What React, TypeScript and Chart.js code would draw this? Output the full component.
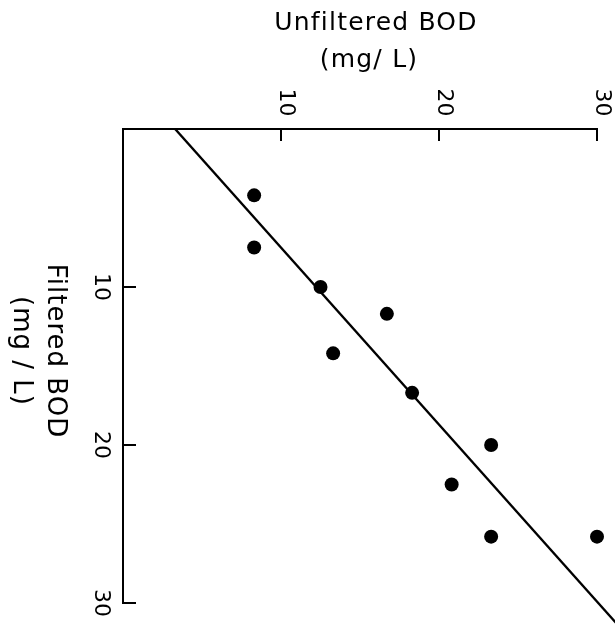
import { useEffect, useRef } from "react";
import { Chart, registerables } from "chart.js";

Chart.register(...registerables);

const unfilteredBOD = [8.3, 8.3, 12.5, 16.7, 13.3, 18.3, 23.3, 20.8, 23.3, 30.0];
const filteredBOD = [4.2, 7.5, 10.0, 11.7, 14.2, 16.7, 20.0, 22.5, 25.8, 25.8];
const fitLineX = [3.3, 31.6];
const fitLineY = [0, 31.7];
const xTickValues = [10, 20, 30];
const yTickValues = [10, 20, 30];
const xTitleLines = ["Unfiltered BOD", "(mg/ L)"];
const yTitleLines = ["Filtered BOD", "(mg / L)"];

const FONT = '"DejaVu Sans", sans-serif';

const overlayPlugin = {
  id: "overlay",
  afterDraw(chart: any) {
    const { ctx, chartArea, scales } = chart;
    const xs = scales.x;
    const ys = scales.y;
    ctx.save();
    ctx.strokeStyle = "#000";
    ctx.lineWidth = 2;
    xTickValues.forEach((v) => {
      const px = xs.getPixelForValue(v);
      ctx.beginPath();
      ctx.moveTo(px, chartArea.top);
      ctx.lineTo(px, chartArea.top + 12);
      ctx.stroke();
    });
    yTickValues.forEach((v) => {
      const py = ys.getPixelForValue(v);
      ctx.beginPath();
      ctx.moveTo(chartArea.left, py);
      ctx.lineTo(chartArea.left + 13, py);
      ctx.stroke();
    });

    ctx.fillStyle = "#000";
    ctx.textAlign = "center";
    ctx.textBaseline = "alphabetic";
    ctx.font = `22px ${FONT}`;
    xTickValues.forEach((v) => {
      const px = xs.getPixelForValue(v);
      ctx.save();
      ctx.translate(px - 1, chartArea.top - 26.5);
      ctx.rotate(Math.PI / 2);
      ctx.fillText(String(v), 0, 0);
      ctx.restore();
    });
    yTickValues.forEach((v) => {
      const py = ys.getPixelForValue(v);
      ctx.save();
      ctx.translate(chartArea.left - 28, py);
      ctx.rotate(Math.PI / 2);
      ctx.fillText(String(v), 0, 0);
      ctx.restore();
    });

    const cx = (chartArea.left + chartArea.right) / 2;
    const cy = (chartArea.top + chartArea.bottom) / 2;

    ctx.font = `25px ${FONT}`;
    (ctx as any).letterSpacing = "1.2px";
    ctx.fillText(xTitleLines[0], cx + 16, chartArea.top - 99);
    ctx.fillText(xTitleLines[1], cx + 9, chartArea.top - 62.5);

    ctx.font = `26px ${FONT}`;
    (ctx as any).letterSpacing = "1px";
    ctx.save();
    ctx.translate(48, cy - 15);
    ctx.rotate(Math.PI / 2);
    ctx.fillText(yTitleLines[0], 0, 0);
    ctx.restore();
    ctx.save();
    ctx.translate(14, cy - 15);
    ctx.rotate(Math.PI / 2);
    ctx.fillText(yTitleLines[1], 0, 0);
    ctx.restore();

    ctx.restore();
  },
};

export default function App() {
  const canvasRef = useRef<HTMLCanvasElement | null>(null);

  useEffect(() => {
    if (!canvasRef.current) return;
    const points = unfilteredBOD.map((x, i) => ({ x, y: filteredBOD[i] }));
    const fit = fitLineX.map((x, i) => ({ x, y: fitLineY[i] }));
    const chart = new Chart(canvasRef.current, {
      type: "scatter",
      data: {
        datasets: [
          {
            label: "Samples",
            data: points,
            backgroundColor: "#000",
            borderColor: "#000",
            borderWidth: 0,
            pointRadius: 7,
            pointHoverRadius: 7,
            clip: false,
          } as any,
          {
            label: "Fit",
            data: fit,
            showLine: true,
            borderColor: "#000",
            borderWidth: 2.4,
            pointRadius: 0,
            fill: false,
            clip: false,
          } as any,
        ],
      },
      options: {
        animation: false,
        responsive: false,
        events: [],
        layout: { padding: { left: 0, top: 0, right: 18, bottom: 26 } },
        plugins: {
          legend: { display: false },
          tooltip: { enabled: false },
        },
        scales: {
          x: {
            type: "linear",
            position: "top",
            min: 0,
            max: 30,
            ticks: { display: false, stepSize: 10 },
            grid: { display: true, drawOnChartArea: false, drawTicks: false },
            border: { display: true, color: "#000", width: 2 },
            afterFit(s: any) {
              s.height = 129;
            },
          },
          y: {
            type: "linear",
            position: "left",
            reverse: true,
            min: 0,
            max: 30,
            ticks: { display: false, stepSize: 10 },
            grid: { display: true, drawOnChartArea: false, drawTicks: false },
            border: { display: true, color: "#000", width: 2 },
            afterFit(s: any) {
              s.width = 123;
            },
          },
        },
      } as any,
      plugins: [overlayPlugin],
    });
    return () => chart.destroy();
  }, []);

  return (
    <div style={{ position: "fixed", left: 0, top: 0, width: 615, height: 629 }}>
      <canvas ref={canvasRef} width={615} height={629} style={{ display: "block" }} />
    </div>
  );
}
